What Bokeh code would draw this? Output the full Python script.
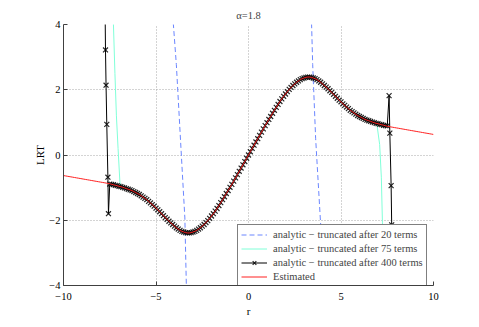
from bokeh.plotting import figure
from bokeh.models import Range1d, Legend, LegendItem, FixedTicker
from bokeh.embed import file_html
from bokeh.resources import INLINE

# ---------------- data ----------------
title_text = "α=1.8"
x_label = "r"
y_label = "LRT"
x_ticks = [-10, -5, 0, 5, 10]
x_tick_labels = ["−10", "−5", "0", "5", "10"]
y_ticks = [-4, -2, 0, 2, 4]
y_tick_labels = ["−4", "−2", "0", "2", "4"]
legend_labels = ["analytic − truncated after 20 terms",
                 "analytic − truncated after 75 terms",
                 "analytic − truncated after 400 terms",
                 "Estimated"]

# Estimated LRT curve, sampled every 0.1: r = -10 ... -0.1
lrt_est_neg = [-0.63, -0.64, -0.65, -0.66, -0.67, -0.68, -0.69, -0.70, -0.71, -0.72,
               -0.73, -0.74, -0.75, -0.76, -0.77, -0.78, -0.79, -0.80, -0.81, -0.82,
               -0.83, -0.84, -0.85, -0.86, -0.87, -0.88, -0.90, -0.91, -0.93, -0.94,
               -0.96, -0.97, -0.99, -1.01, -1.03, -1.05, -1.07, -1.09, -1.12, -1.15,
               -1.18, -1.21, -1.25, -1.29, -1.33, -1.37, -1.42, -1.47, -1.52, -1.57,
               -1.63, -1.68, -1.74, -1.80, -1.86, -1.92, -1.97, -2.03, -2.08, -2.13,
               -2.18, -2.23, -2.27, -2.31, -2.34, -2.36, -2.38, -2.39, -2.39, -2.38,
               -2.36, -2.34, -2.31, -2.27, -2.23, -2.18, -2.13, -2.07, -2.01, -1.94,
               -1.87, -1.80, -1.72, -1.64, -1.55, -1.46, -1.37, -1.28, -1.18, -1.09,
               -0.99, -0.90, -0.80, -0.70, -0.60, -0.50, -0.40, -0.30, -0.20, -0.10]
# r = 0 ... 10
lrt_est_pos = [0.00,
               0.10, 0.20, 0.30, 0.40, 0.50, 0.60, 0.70, 0.80, 0.90, 0.99,
               1.09, 1.18, 1.28, 1.37, 1.46, 1.55, 1.64, 1.72, 1.80, 1.87,
               1.94, 2.01, 2.07, 2.13, 2.18, 2.23, 2.27, 2.31, 2.34, 2.36,
               2.38, 2.39, 2.39, 2.38, 2.36, 2.34, 2.31, 2.27, 2.23, 2.18,
               2.13, 2.08, 2.03, 1.97, 1.92, 1.86, 1.80, 1.74, 1.68, 1.63,
               1.57, 1.52, 1.47, 1.42, 1.37, 1.33, 1.29, 1.25, 1.21, 1.18,
               1.15, 1.12, 1.09, 1.07, 1.05, 1.03, 1.01, 0.99, 0.97, 0.96,
               0.94, 0.93, 0.91, 0.90, 0.88, 0.87, 0.86, 0.85, 0.84, 0.83,
               0.82, 0.81, 0.80, 0.79, 0.78, 0.77, 0.76, 0.75, 0.74, 0.73,
               0.72, 0.71, 0.70, 0.69, 0.68, 0.67, 0.66, 0.65, 0.64, 0.63]
r_est = [round(-10 + 0.1 * i, 1) for i in range(201)]
lrt_est = lrt_est_neg + lrt_est_pos

# 20-term truncation: diverging branches (in between it follows the estimate)
r20_left = [-4.30, -4.06, -3.90, -3.63, -3.44, -3.36, -3.30]
lrt20_left = [6.0, 4.0, 2.77, 0.0, -1.93, -4.0, -6.0]
r20_right = [3.30, 3.41, 3.47, 3.63, 3.88, 4.10, 4.30]
lrt20_right = [6.0, 4.0, 2.77, 0.5, -1.93, -4.0, -6.0]
r20_inner = 3.2

# 75-term truncation: diverging ends
r75_left = [-7.40, -7.30, -7.22, -7.14, -7.05, -6.95]
lrt75_left = [5.5, 4.0, 2.5, 1.2, 0.2, -0.85]
r75_right = [6.95, 7.09, 7.18, 7.24, 7.33, 7.40]
lrt75_right = [0.90, 0.32, -0.68, -2.08, -4.07, -5.5]
r75_inner = 6.9

# 400-term truncation: diverging ends
r400_left = [-7.77, -7.73, -7.70, -7.66, -7.60, -7.57, -7.50]
lrt400_left = [5.5, 3.22, 2.14, 0.94, -0.68, -1.80, -0.89]
r400_right = [7.50, 7.60, 7.64, 7.71, 7.74, 7.76, 7.79]
lrt400_right = [0.89, 1.82, 0.67, -0.94, -2.14, -3.22, -5.5]
r400_inner = 7.45

# ---------------- build series ----------------
def inner(limit):
    xs = [x for x in r_est if abs(x) <= limit + 1e-9]
    ys = [y for x, y in zip(r_est, lrt_est) if abs(x) <= limit + 1e-9]
    return xs, ys

nan = float("nan")
xi, yi = inner(r20_inner)
blue_x = r20_left + [nan] + xi + [nan] + r20_right
blue_y = lrt20_left + [nan] + yi + [nan] + lrt20_right

xi, yi = inner(r75_inner)
cyan_x = r75_left + xi + r75_right
cyan_y = lrt75_left + yi + lrt75_right

xi, yi = inner(r400_inner)
black_x = r400_left + xi + r400_right
black_y = lrt400_left + yi + lrt400_right

# ---------------- figure ----------------
SERIF = "'Liberation Serif', serif"
p = figure(width=471, height=319, output_backend="svg", toolbar_location=None,
           x_range=Range1d(-10, 10), y_range=Range1d(-4, 4),
           min_border_left=63, min_border_right=38, min_border_top=24,
           min_border_bottom=29, title=title_text)
p.outline_line_color = None
p.background_fill_color = "white"
p.border_fill_color = "white"

p.title.align = "center"
p.title.text_font = SERIF
p.title.text_font_size = "10.5px"
p.title.text_font_style = "normal"
p.title.standoff = 7

for ax, ticks, labels, lab in ((p.xaxis[0], x_ticks, x_tick_labels, x_label),
                               (p.yaxis[0], y_ticks, y_tick_labels, y_label)):
    ax.ticker = FixedTicker(ticks=ticks)
    ax.major_label_overrides = {t: l for t, l in zip(ticks, labels)}
    ax.axis_label = lab
    ax.axis_label_text_font = SERIF
    ax.axis_label_text_font_size = "11px"
    ax.axis_label_text_font_style = "normal"
    ax.major_label_text_font = SERIF
    ax.major_label_text_font_size = "10.5px"
    ax.major_tick_in = 4
    ax.major_tick_out = 0
    ax.minor_tick_in = 0
    ax.minor_tick_out = 0
    ax.axis_line_color = "#404040"
    ax.major_tick_line_color = "#404040"
    ax.major_label_text_color = "black"
    ax.axis_label_text_color = "black"

p.xaxis.major_label_standoff = 7
p.xaxis.axis_label_standoff = 2
p.yaxis.major_label_standoff = 3
p.yaxis.axis_label_standoff = 0

p.xgrid.ticker = FixedTicker(ticks=x_ticks)
p.ygrid.ticker = FixedTicker(ticks=y_ticks)
p.grid.grid_line_color = "#a8a8a8"
p.grid.grid_line_dash = "1 2"
p.grid.grid_line_width = 1

r_blue = p.line(blue_x, blue_y, line_color="#6b86ff", line_width=1, line_dash="5 3")
r_cyan = p.line(cyan_x, cyan_y, line_color="#80ffd8", line_width=1)
r_black = p.line(black_x, black_y, line_color="black", line_width=1)
r_blackm = p.scatter(black_x, black_y, marker="x", size=7, line_color="black",
                     line_width=1.2, line_alpha=0.85)
r_red = p.line(r_est, lrt_est, line_color="#ff2020", line_width=1)

legend = Legend(items=[LegendItem(label=legend_labels[0], renderers=[r_blue]),
                       LegendItem(label=legend_labels[1], renderers=[r_cyan]),
                       LegendItem(label=legend_labels[2], renderers=[r_black, r_blackm]),
                       LegendItem(label=legend_labels[3], renderers=[r_red])],
                location=(174, -2))
legend.margin = 0
legend.padding = 3
legend.spacing = 1
legend.label_height = 13
legend.glyph_height = 13
legend.glyph_width = 26
legend.label_standoff = 6
legend.label_text_font = SERIF
legend.label_text_font_size = "10.5px"
legend.border_line_color = "black"
legend.border_line_width = 1
legend.background_fill_color = "white"
legend.background_fill_alpha = 1
p.add_layout(legend)

open("out.html", "w").write(file_html(p, INLINE))
